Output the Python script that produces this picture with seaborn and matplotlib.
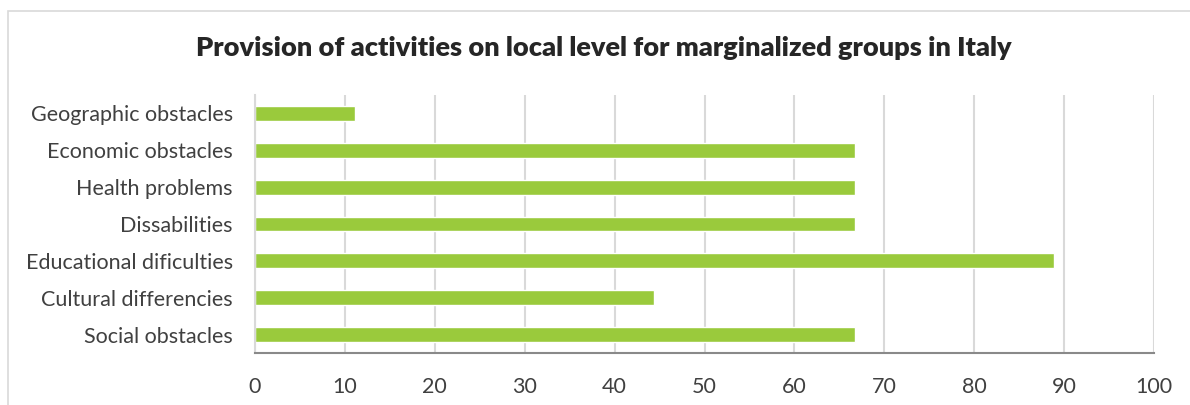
import matplotlib
matplotlib.use("Agg")
import matplotlib.pyplot as plt
import seaborn as sns
import pandas as pd
from matplotlib.patches import Rectangle

categories = [
    "Geographic obstacles",
    "Economic obstacles",
    "Health problems",
    "Dissabilities",
    "Educational dificulties",
    "Cultural differencies",
    "Social obstacles",
]
values = [11.1, 66.7, 66.7, 66.7, 88.9, 44.4, 66.7]
x_ticks = [0, 10, 20, 30, 40, 50, 60, 70, 80, 90, 100]
title = "Provision of activities on local level for marginalized groups in Italy"

df = pd.DataFrame({"category": categories, "value": values})

sns.set_theme(style="white")
plt.rcParams["font.family"] = ["Lato", "DejaVu Sans"]

text_color = "#404040"
bar_color = "#9ACA3C"
grid_color = "#D9D9D9"

W, H = 1190, 405
fig = plt.figure(figsize=(W / 100, H / 100), dpi=100)
ax = fig.add_axes([255 / W, 1 - 353 / H, (1154 - 255) / W, (353 - 95) / H])

sns.barplot(data=df, x="value", y="category", order=categories,
            color=bar_color, width=0.4, saturation=1, ax=ax, orient="h")

ax.set_xlim(0, 100)
ax.set_ylim(len(categories) - 0.5, -0.5)
ax.set_xticks(x_ticks)
ax.set_xticklabels([str(t) for t in x_ticks], fontsize=15.5, color=text_color)
ax.tick_params(axis="x", length=0, pad=17)
ax.tick_params(axis="y", length=0, pad=16, labelsize=15.5, labelcolor=text_color)
ax.set_xlabel("")
ax.set_ylabel("")

ax.grid(axis="x", color=grid_color, linewidth=1.5)
ax.set_axisbelow(True)
for side in ["top", "right"]:
    ax.spines[side].set_visible(False)
ax.spines["left"].set_color(grid_color)
ax.spines["left"].set_linewidth(1.5)
ax.spines["bottom"].set_color("#898989")
ax.spines["bottom"].set_linewidth(1.5)

fig.text(604 / W, 1 - 48 / H, title, ha="center", va="center",
         fontsize=19.5, fontweight="heavy", color="#262626")

# Outer chart frame
fig.patches.append(Rectangle((8 / W, -0.1), 1.1, 1 - 11 / H + 0.1,
                             transform=fig.transFigure, fill=False,
                             edgecolor=grid_color, linewidth=1.2))

fig.savefig("out.png", dpi=100)
